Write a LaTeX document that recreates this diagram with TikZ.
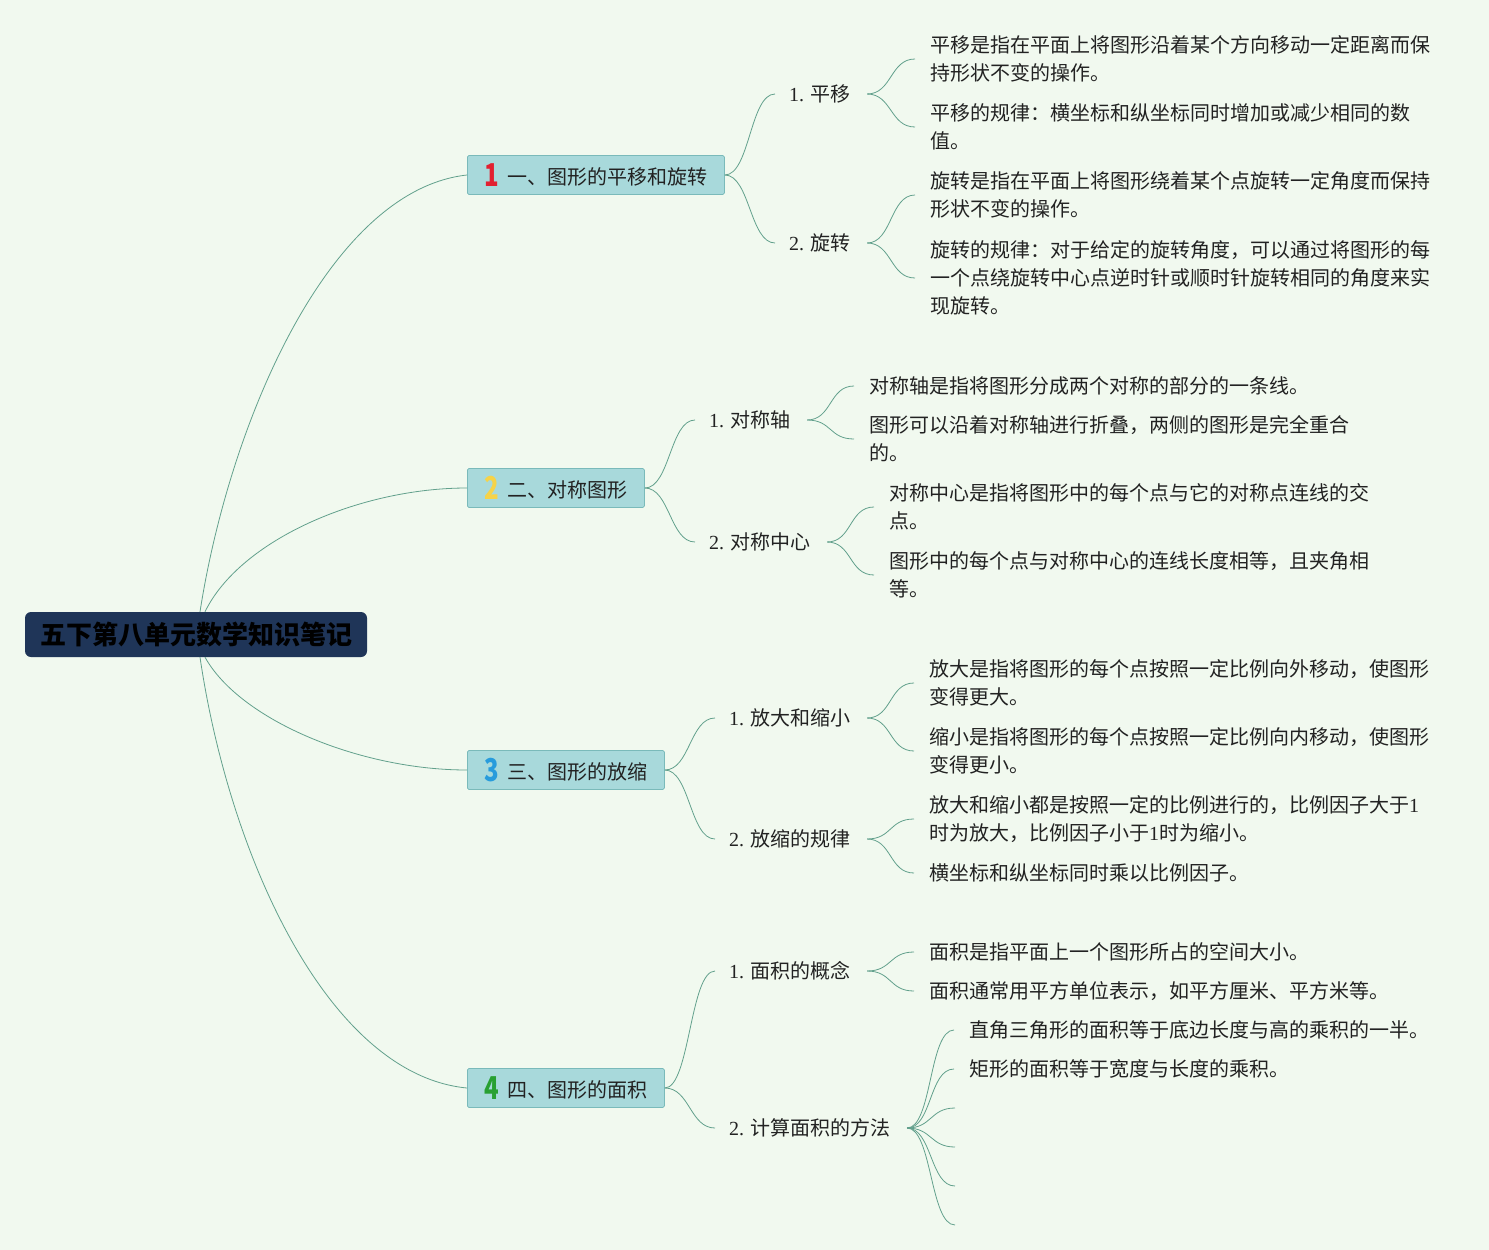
\documentclass[tikz,border=0pt]{standalone}
\usepackage{fontspec}
\usepackage{graphicx}
\setmainfont{Liberation Serif}
\newfontfamily\cjk{Noto Sans CJK SC}
\definecolor{bgc}{RGB}{241,249,239}
\definecolor{linkc}{RGB}{98,160,140}
\definecolor{brfill}{RGB}{168,217,219}
\definecolor{brdraw}{RGB}{122,186,186}
\definecolor{rootc}{RGB}{31,53,88}
\definecolor{numa}{RGB}{226,32,48}
\definecolor{numb}{RGB}{246,211,72}
\definecolor{numc}{RGB}{40,156,220}
\definecolor{numd}{RGB}{40,160,50}
\definecolor{txt}{RGB}{34,34,34}
\tikzset{
  leaf/.style={anchor=west, inner sep=0pt, align=left, text=txt,
    font=\cjk\fontsize{20}{28}\selectfont},
  subn/.style={anchor=west, inner sep=0pt, text=txt,
    font=\cjk\fontsize{20}{28}\selectfont},
  branch/.style={anchor=west, draw=brdraw, fill=brfill, line width=0.8pt,
    minimum height=39pt, inner xsep=0pt, rounded corners=1.5pt, text=txt,
    font=\cjk\fontsize{20}{24}\selectfont},
  rootn/.style={fill=rootc, rounded corners=6pt, minimum width=342pt,
    minimum height=45pt, inner sep=0pt, text=black,
    font=\cjk\bfseries\fontsize{26}{30}\selectfont},
  link/.style={draw=linkc, line width=0.8pt}
}
\newcommand\lat[1]{{\rmfamily #1}}
\newcommand\numtag[2]{\raisebox{-2pt}{\scalebox{0.8}[1.05]{\cjk\bfseries\fontsize{30}{30}\selectfont\color{#1}#2}}}
\begin{document}
\begin{tikzpicture}[x=1pt,y=-1pt]
\fill[bgc] (0,0) rectangle (1489,1250);
\useasboundingbox (0,0) rectangle (1489,1250);

% root
\node[rootn] (root) at (196,634.5) {五下第八单元数学知识笔记};

% branches
\node[branch, minimum width=257pt] (b1) at (467,175) {\numtag{numa}{1}\hspace{9pt}一、图形的平移和旋转};
\node[branch, minimum width=177pt] (b2) at (467,488) {\numtag{numb}{2}\hspace{9pt}二、对称图形};
\node[branch, minimum width=197pt] (b3) at (467,770) {\numtag{numc}{3}\hspace{9pt}三、图形的放缩};
\node[branch, minimum width=197pt] (b4) at (467,1088) {\numtag{numd}{4}\hspace{9pt}四、图形的面积};

% sub nodes
\node[subn] (s11) at (789,94) {\lat{1. }平移};
\node[subn] (s12) at (789,243) {\lat{2. }旋转};
\node[subn] (s21) at (709,420) {\lat{1. }对称轴};
\node[subn] (s22) at (709,542) {\lat{2. }对称中心};
\node[subn] (s31) at (729,718) {\lat{1. }放大和缩小};
\node[subn] (s32) at (729,839) {\lat{2. }放缩的规律};
\node[subn] (s41) at (729,971) {\lat{1. }面积的概念};
\node[subn] (s42) at (729,1128) {\lat{2. }计算面积的方法};

% leaves
\node[leaf] (l111) at (930,59) {平移是指在平面上将图形沿着某个方向移动一定距离而保\\持形状不变的操作。};
\node[leaf] (l112) at (930,127) {平移的规律：横坐标和纵坐标同时增加或减少相同的数\\值。};
\node[leaf] (l121) at (930,195) {旋转是指在平面上将图形绕着某个点旋转一定角度而保持\\形状不变的操作。};
\node[leaf] (l122) at (930,278) {旋转的规律：对于给定的旋转角度，可以通过将图形的每\\一个点绕旋转中心点逆时针或顺时针旋转相同的角度来实\\现旋转。};
\node[leaf] (l211) at (869,386) {对称轴是指将图形分成两个对称的部分的一条线。};
\node[leaf] (l212) at (869,439) {图形可以沿着对称轴进行折叠，两侧的图形是完全重合\\的。};
\node[leaf] (l221) at (889,507) {对称中心是指将图形中的每个点与它的对称点连线的交\\点。};
\node[leaf] (l222) at (889,575) {图形中的每个点与对称中心的连线长度相等，且夹角相\\等。};
\node[leaf] (l311) at (929,683) {放大是指将图形的每个点按照一定比例向外移动，使图形\\变得更大。};
\node[leaf] (l312) at (929,751) {缩小是指将图形的每个点按照一定比例向内移动，使图形\\变得更小。};
\node[leaf] (l321) at (929,819) {放大和缩小都是按照一定的比例进行的，比例因子大于\lat{1}\\时为放大，比例因子小于\lat{1}时为缩小。};
\node[leaf] (l322) at (929,873) {横坐标和纵坐标同时乘以比例因子。};
\node[leaf] (l411) at (929,952) {面积是指平面上一个图形所占的空间大小。};
\node[leaf] (l412) at (929,991) {面积通常用平方单位表示，如平方厘米、平方米等。};
\node[leaf] (l421) at (969,1030) {直角三角形的面积等于底边长度与高的乘积的一半。};
\node[leaf] (l422) at (969,1069) {矩形的面积等于宽度与长度的乘积。};
\coordinate (e3) at (955,1108);
\coordinate (e4) at (955,1147);
\coordinate (e5) at (955,1186);
\coordinate (e6) at (955,1225);

% root links
\draw[link] ([xshift=4pt]root.north) .. controls +(30,-192) and +(-137,15) .. (b1.west);
\draw[link] ([xshift=9pt]root.north) .. controls +(35,-72) and +(-107,0) .. (b2.west);
\draw[link] ([xshift=9pt]root.south) .. controls +(35,63) and +(-107,0) .. (b3.west);
\draw[link] ([xshift=4pt]root.south) .. controls +(30,203) and +(-137,-13) .. (b4.west);

% branch -> sub links
\foreach \b/\s in {b1/s11,b1/s12,b2/s21,b2/s22,b3/s31,b3/s32,b4/s41,b4/s42}
  \draw[link] (\b.east) .. controls +(25,0) and +(-25,0) .. ([xshift=-14pt]\s.west);

% sub -> leaf links
\foreach \s/\l in {s11/l111,s11/l112,s12/l121,s12/l122,s21/l211,s21/l212,s22/l221,s22/l222,s31/l311,s31/l312,s32/l321,s32/l322,s41/l411,s41/l412,s42/l421,s42/l422}
  \draw[link] ([xshift=16pt]\s.east) .. controls +(25,0) and +(-25,0) .. ([xshift=-15pt]\l.west);
\foreach \e in {e3,e4,e5,e6}
  \draw[link] ([xshift=16pt]s42.east) .. controls +(25,0) and +(-25,0) .. (\e);
\end{tikzpicture}
\end{document}
